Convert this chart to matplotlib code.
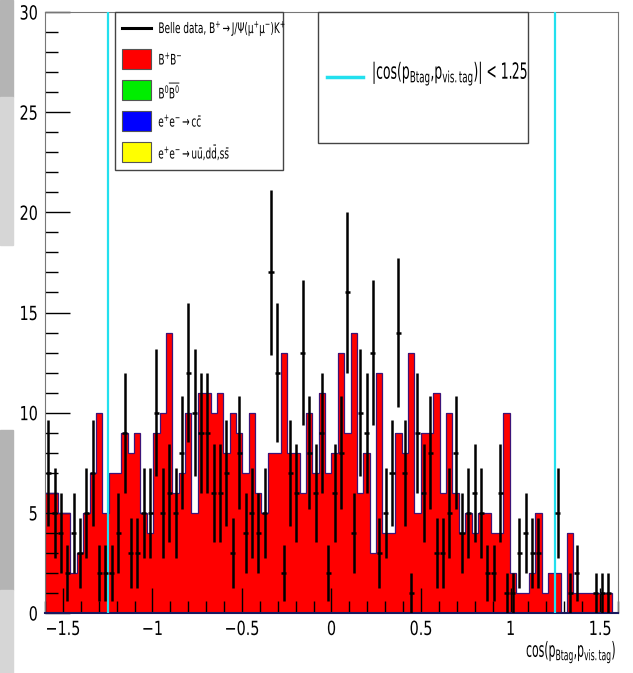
import numpy as np
import matplotlib
matplotlib.use("Agg")
import matplotlib.pyplot as plt
from matplotlib.patches import Rectangle
from matplotlib.lines import Line2D
from matplotlib.patheffects import AbstractPathEffect
from matplotlib.transforms import Affine2D

plt.rcParams['font.family'] = ['DejaVu Sans']
plt.rcParams['font.stretch'] = 'condensed'
plt.rcParams['mathtext.fontset'] = 'custom'
plt.rcParams['mathtext.rm'] = 'DejaVu Sans:stretch=condensed'
plt.rcParams['mathtext.it'] = 'DejaVu Sans:italic:stretch=condensed'
plt.rcParams['mathtext.sf'] = 'DejaVu Sans:stretch=condensed'

# 90 bins in cos(p_Btag, p_vis.tag), -1.6 .. 1.6
x_lo, x_hi, n_bins = -1.6, 1.6, 90

# B+B- MC (stacked, the other components are empty)
mc_bpbm = [6, 6, 5, 5, 2, 3, 5, 7, 10, 5, 7, 7, 9, 8, 9, 5, 4, 9, 10, 14,
           6, 7, 10, 5, 11, 11, 10, 11, 8, 10, 9, 7, 10, 6, 5, 8, 8, 13, 8, 8,
           6, 10, 7, 11, 7, 8, 13, 9, 14, 6, 8, 3, 12, 4, 4, 9, 8, 13, 5, 9,
           9, 11, 6, 10, 6, 4, 5, 4, 5, 5, 4, 4, 10, 2, 1, 1, 2, 5, 1, 2,
           2, 0, 4, 1, 1, 1, 1, 1, 1, 0]

# Belle data counts
data = [7, 5, 4, 2, 4, 3, 5, 7, 2, 2, 2, 4, 9, 3, 3, 5, 5, 10, 5, 6,
        5, 8, 12, 10, 9, 9, 6, 6, 7, 3, 8, 4, 5, 4, 5, 17, 12, 2, 7, 6,
        13, 8, 6, 9, 2, 6, 8, 16, 4, 10, 9, 13, 3, 5, 7, 14, 7, 1, 9, 6,
        8, 3, 3, 5, 8, 4, 5, 6, 5, 2, 2, 6, 1, 1, 3, 4, 3, 3, 0, 0,
        5, 0, 1, 2, 0, 0, 1, 1, 1, 0]

cut_value = 1.25


class Squeeze(AbstractPathEffect):
    """Narrow the glyphs horizontally around the left, centre or right edge."""

    def __init__(self, sx, pivot='left'):
        super().__init__()
        self.sx = sx
        self.pivot = pivot

    def draw_path(self, renderer, gc, tpath, affine, rgbFace=None):
        ext = tpath.get_extents(affine)
        px = {'left': ext.x0, 'right': ext.x1,
              'center': 0.5 * (ext.x0 + ext.x1)}[self.pivot]
        t = affine + Affine2D().translate(-px, 0).scale(self.sx, 1).translate(px, 0)
        renderer.draw_path(gc, tpath, t, rgbFace)


W, H = 633, 673
fig = plt.figure(figsize=(W / 100, H / 100), dpi=100)


def fx(px):
    return px / W


def fy(py):
    return 1 - py / H


# grey strip at the left border of the canvas
for y0, y1, c in [(0, 97, '#b4b4b4'), (97, 245, '#d6d6d6'),
                  (430, 590, '#b4b4b4'), (590, 673, '#d6d6d6')]:
    fig.patches.append(Rectangle((0, fy(y1)), fx(13), fy(y0) - fy(y1),
                                 transform=fig.transFigure, color=c, zorder=0))

ax = fig.add_axes([fx(45), fy(613), fx(618) - fx(45), fy(12) - fy(613)])

edges = np.linspace(x_lo, x_hi, n_bins + 1)
centers = 0.5 * (edges[:-1] + edges[1:])
bw = edges[1] - edges[0]

ax.stairs(mc_bpbm, edges, fill=True, color='#ff0000', zorder=1)
ax.stairs(mc_bpbm, edges, color='#3c1478', lw=0.9, zorder=2)

d = np.array(data, dtype=float)
m = d > 0
ax.errorbar(centers[m], d[m], yerr=np.sqrt(d[m]), xerr=0.4 * bw, fmt='none',
            ecolor='black', elinewidth=1.8, capsize=0, zorder=4)

for xc in (-cut_value, cut_value):
    ax.axvline(xc, color='#22e0ee', lw=1.6, zorder=3)

ax.set_xlim(x_lo, x_hi)
ax.set_ylim(0, 30)
ax.set_xticks(np.arange(-1.5, 1.51, 0.5))
ax.set_xticklabels(['\u22121.5', '\u22121', '\u22120.5', '0', '0.5', '1', '1.5'])
ax.set_xticks(np.arange(-1.6, 1.61, 0.1), minor=True)
ax.set_yticks(np.arange(0, 31, 5))
ax.set_yticks(np.arange(0, 31, 1), minor=True)
ax.tick_params(axis='both', which='major', direction='in', length=18, width=1,
               labelsize=14, color='black')
ax.tick_params(axis='both', which='minor', direction='in', length=9, width=1,
               color='black')
ax.tick_params(axis='x', pad=5)
ax.tick_params(axis='y', pad=5)
ax.tick_params(top=False, right=False, which='both')
for lab in ax.get_xticklabels():
    lab.set_path_effects([Squeeze(0.82, 'center')])
for lab in ax.get_yticklabels():
    lab.set_path_effects([Squeeze(0.82, 'right')])
for s in ('top', 'right', 'left'):
    ax.spines[s].set_color('#777777')
ax.spines['bottom'].set_color('#1a1a60')
ax.spines['bottom'].set_linewidth(1.5)

fig.text(fx(617), fy(652), r'cos(p$_{\mathrm{Btag}}$,p$_{\mathrm{vis.tag}}$)',
         ha='right', va='center', fontsize=15,
         path_effects=[Squeeze(0.58, 'right')])

# legend of the samples
fig.patches.append(Rectangle((fx(115), fy(170)), fx(283) - fx(115), fy(12) - fy(170),
                             transform=fig.transFigure, fill=True, fc='white',
                             ec='#444444', lw=1, zorder=5))
entries = [
    ('line', 'black', r'Belle data, B$^{+}$$\rightarrow$J/$\Psi$($\mathrm{\mu^{+}\mu^{-}}$)K$^{+}$'),
    ('box', '#ff0000', r'B$^{+}$B$^{-}$'),
    ('box', '#00ee00', r'B$^{0}\overline{\mathrm{B}^{0}}$'),
    ('box', '#0000ff', r'e$^{+}$e$^{-}$$\rightarrow$c$\bar{\mathrm{c}}$'),
    ('box', '#ffff00', r'e$^{+}$e$^{-}$$\rightarrow$u$\bar{\mathrm{u}}$,d$\bar{\mathrm{d}}$,s$\bar{\mathrm{s}}$'),
]
for i, (kind, col, label) in enumerate(entries):
    yc = 28 + i * 31
    if kind == 'line':
        fig.lines.append(Line2D([fx(122), fx(151)], [fy(yc), fy(yc)],
                                transform=fig.transFigure, color=col, lw=2.2, zorder=6))
    else:
        fig.patches.append(Rectangle((fx(122), fy(yc + 10)), fx(29), fy(yc - 10) - fy(yc + 10),
                                     transform=fig.transFigure, fc=col, ec='#555555',
                                     lw=0.8, zorder=6))
    fig.text(fx(158), fy(yc), label, ha='left', va='center', fontsize=10.5, zorder=7,
             path_effects=[Squeeze(0.68, 'left')])

# legend of the cut lines
fig.patches.append(Rectangle((fx(318), fy(143)), fx(528) - fx(318), fy(12) - fy(143),
                             transform=fig.transFigure, fc='white', ec='#444444',
                             lw=1, zorder=5))
fig.lines.append(Line2D([fx(327), fx(363)], [fy(77), fy(77)], transform=fig.transFigure,
                        color='#22e0ee', lw=2.5, zorder=6))
fig.text(fx(371), fy(74), r'|cos(p$_{\mathrm{Btag}}$,p$_{\mathrm{vis.tag}}$)| < 1.25',
         ha='left', va='center', fontsize=16, zorder=7,
         path_effects=[Squeeze(0.62, 'left')])

fig.savefig('out.png', dpi=100)
